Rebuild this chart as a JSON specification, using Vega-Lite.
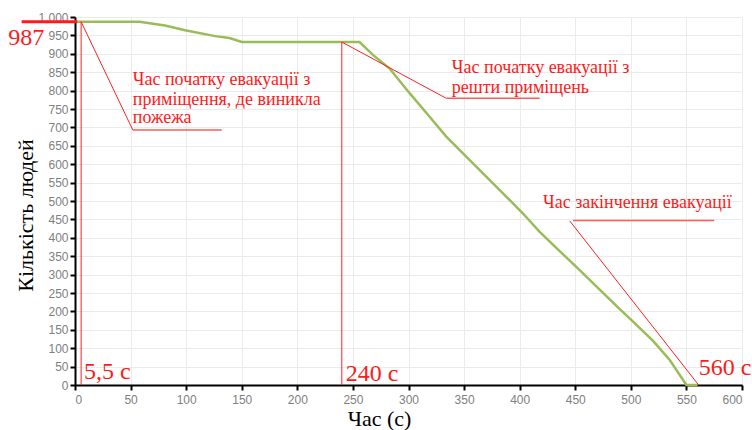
{
  "$schema": "https://vega.github.io/schema/vega-lite/v6.json",
  "width": 667,
  "height": 368,
  "autosize": {"type": "none"},
  "padding": {"left": 75, "top": 17, "right": 10, "bottom": 45},
  "background": "#ffffff",
  "config": {
    "view": {"stroke": null},
    "axis": {
      "gridColor": "#ebebeb",
      "gridWidth": 1,
      "domainColor": "#000000",
      "domainWidth": 2,
      "tickColor": "#000000",
      "tickWidth": 2,
      "tickSize": 5,
      "labelColor": "#808080",
      "labelFont": "Liberation Sans",
      "labelFontSize": 12,
      "labelOverlap": false,
      "titleFont": "Liberation Serif",
      "titleFontSize": 22,
      "titleFontWeight": "normal",
      "titleColor": "#000000"
    }
  },
  "datasets": {
    "evac": [
      {"t": 0, "n": 987}, {"t": 58, "n": 987}, {"t": 81, "n": 977}, {"t": 99, "n": 964},
      {"t": 126, "n": 948}, {"t": 139, "n": 943}, {"t": 150, "n": 932}, {"t": 256, "n": 932},
      {"t": 268, "n": 897}, {"t": 283, "n": 860}, {"t": 301, "n": 793}, {"t": 319, "n": 729},
      {"t": 334, "n": 675}, {"t": 367, "n": 575}, {"t": 385, "n": 521},
      {"t": 403, "n": 466}, {"t": 418, "n": 416}, {"t": 436, "n": 364}, {"t": 454, "n": 312},
      {"t": 472, "n": 259}, {"t": 487, "n": 215}, {"t": 502, "n": 172}, {"t": 520, "n": 120},
      {"t": 535, "n": 68}, {"t": 550, "n": 0}, {"t": 560, "n": 0}
    ],
    "guides": [
      {"t": 5.5, "n": 0, "t2": 5.5, "n2": 987},
      {"t": 5.5, "n": 987, "t2": 52, "n2": 693},
      {"t": 240, "n": 0, "t2": 240, "n2": 932},
      {"t": 240, "n": 932, "t2": 334, "n2": 779},
      {"t": 445, "n": 446, "t2": 561, "n2": 0}
    ],
    "underlines": [
      {"t": 52, "n": 693, "t2": 132, "n2": 693},
      {"t": 334, "n": 779, "t2": 418, "n2": 779},
      {"t": 448, "n": 447, "t2": 575, "n2": 447}
    ],
    "marker": [
      {"t": -48, "n": 987, "t2": 2, "n2": 987}
    ],
    "bigLabels": [
      {"t": -60, "n": 924, "label": "987"},
      {"t": 8, "n": 16, "label": "5,5 с"},
      {"t": 243.5, "n": 11, "label": "240 с"},
      {"t": 561, "n": 27, "label": "560 с"}
    ],
    "notes": [
      {"t": 52, "n": 815, "label": "Час початку евакуації з"},
      {"t": 52, "n": 761, "label": "приміщення, де виникла"},
      {"t": 52, "n": 712, "label": "пожежа"},
      {"t": 339, "n": 848, "label": "Час початку евакуації з"},
      {"t": 339, "n": 793, "label": "решти приміщень"},
      {"t": 421, "n": 481, "label": "Час закінчення евакуації"}
    ]
  },
  "encoding": {
    "x": {
      "field": "t", "type": "quantitative",
      "scale": {"domain": [0, 600], "nice": false, "zero": false},
      "axis": {
        "title": "Час (с)",
        "values": [0, 50, 100, 150, 200, 250, 300, 350, 400, 450, 500, 550, 600],
        "labelPadding": 4,
        "titleX": 304,
        "titleY": 40,
        "titleAlign": "center",
        "titleBaseline": "alphabetic"
      }
    },
    "y": {
      "field": "n", "type": "quantitative",
      "scale": {"domain": [0, 1000], "nice": false, "zero": false},
      "axis": {
        "title": "Кількість людей",
        "values": [0, 50, 100, 150, 200, 250, 300, 350, 400, 450, 500, 550, 600, 650, 700, 750, 800, 850, 900, 950, 1000],
        "labelPadding": 2,
        "titleX": -50,
        "titleY": 198,
        "titleAngle": -90,
        "titleAlign": "center",
        "titleBaseline": "middle"
      }
    }
  },
  "layer": [
    {
      "data": {"name": "evac"},
      "mark": {"type": "line", "color": "#9bbb59", "strokeWidth": 2.5}
    },
    {
      "data": {"name": "guides"},
      "mark": {"type": "rule", "color": "#ff2020", "strokeWidth": 1},
      "encoding": {"x2": {"field": "t2"}, "y2": {"field": "n2"}}
    },
    {
      "data": {"name": "underlines"},
      "mark": {"type": "rule", "color": "#ff5a5a", "strokeWidth": 1.5},
      "encoding": {"x2": {"field": "t2"}, "y2": {"field": "n2"}}
    },
    {
      "data": {"name": "marker"},
      "mark": {"type": "rule", "color": "#ff1a1a", "strokeWidth": 3},
      "encoding": {"x2": {"field": "t2"}, "y2": {"field": "n2"}}
    },
    {
      "data": {"name": "bigLabels"},
      "mark": {"type": "text", "color": "#ff1a1a", "font": "Liberation Serif", "fontSize": 24, "align": "left", "baseline": "alphabetic"},
      "encoding": {"text": {"field": "label"}}
    },
    {
      "data": {"name": "notes"},
      "mark": {"type": "text", "color": "#ff1a1a", "font": "Liberation Serif", "fontSize": 18, "align": "left", "baseline": "alphabetic"},
      "encoding": {"text": {"field": "label"}}
    }
  ]
}
